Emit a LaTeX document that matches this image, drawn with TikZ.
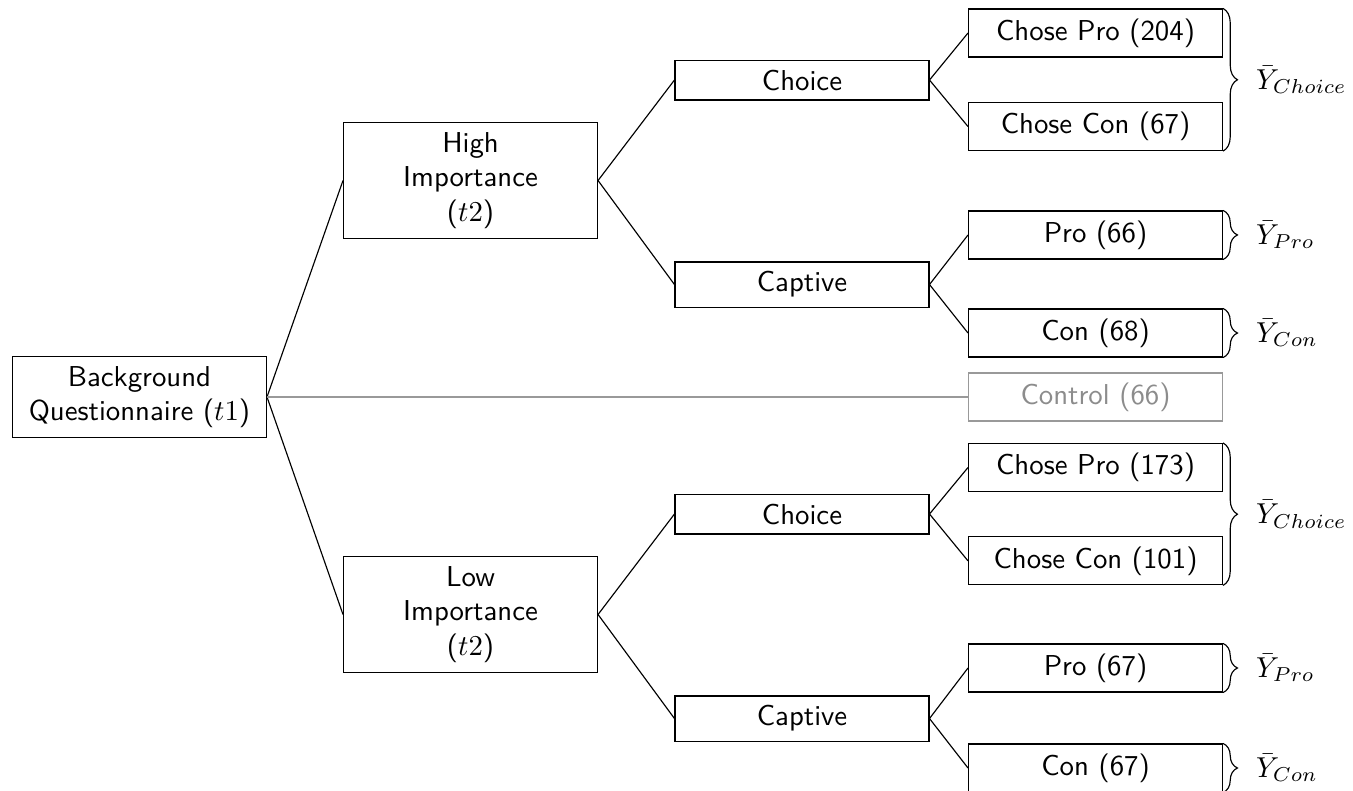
\documentclass[tikz,border=0pt]{standalone}
\usetikzlibrary{decorations.pathreplacing}
\begin{document}
\begin{tikzpicture}[
    box/.style={shape=rectangle, draw=black, minimum width=3.1cm, align=center, font=\sffamily},
    ctrlbox/.style={box, draw=gray!80, text=gray!90},
    grpbrace/.style={decorate, decoration={brace, amplitude=5pt}}
]
\useasboundingbox (0,0) rectangle (16.52,-9.646);

%%%%%%%%%%%%%%%%%%%% Root %%%%%%%%%%%%%%%%%%%%%%%%%%
\node[box] (bg) at (1.703,-4.847) {Background\\Questionnaire ($t1$)};

%%%%%%%%%%%%%%%%%%%% Importance %%%%%%%%%%%%%%%%%%%%%%%%%%
\node[box] (high) at (5.745,-2.204) {High\\Importance\\($t2$)};
\node[box] (low) at (5.745,-7.503) {Low\\Importance\\($t2$)};

%%%%%%%%%%%%%%%%%%%% Condition %%%%%%%%%%%%%%%%%%%%%%%%%%
\node[box] (choice1) at (9.792,-0.977) {Choice};
\node[box] (captive1) at (9.792,-3.474) {Captive};
\node[box] (choice2) at (9.792,-6.276) {Choice};
\node[box] (captive2) at (9.792,-8.773) {Captive};

%%%%%%%%%%%%%%%%%%%% Groups %%%%%%%%%%%%%%%%%%%%%%%%%%
\foreach \name/\y/\txt in {cp1/-0.403/Chose Pro (204), cc1/-1.545/Chose Con (67),
    p1/-2.869/Pro (66), c1/-4.066/Con (68), cp2/-5.708/Chose Pro (173),
    cc2/-6.848/Chose Con (101), p2/-8.156/Pro (67), c2/-9.377/Con (67)}
{
    \node[box] (\name) at (13.376,\y) {\txt};
}
\node[ctrlbox] (control) at (13.376,-4.847) {Control (66)};

%Draw tree
\path [-] (bg.east) edge (high.west) edge (low.west);
\path [-,gray!80] (bg.east) edge (control.west);
\path [-] (high.east) edge (choice1.west) edge (captive1.west);
\path [-] (low.east) edge (choice2.west) edge (captive2.west);
\foreach \index in {1,2}
{
    \path [-] (choice\index.east) edge (cp\index.west) edge (cc\index.west);
    \path [-] (captive\index.east) edge (p\index.west) edge (c\index.west);
}

%Braces
\foreach \index in {1,2}
{
    \draw[grpbrace] (cp\index.north east) -- (cc\index.south east) node[midway, right=8pt] {$\bar{Y}_{Choice}$};
    \draw[grpbrace] (p\index.north east) -- (p\index.south east) node[midway, right=8pt] {$\bar{Y}_{Pro}$};
    \draw[grpbrace] (c\index.north east) -- (c\index.south east) node[midway, right=8pt] {$\bar{Y}_{Con}$};
}

\end{tikzpicture}
\end{document}
